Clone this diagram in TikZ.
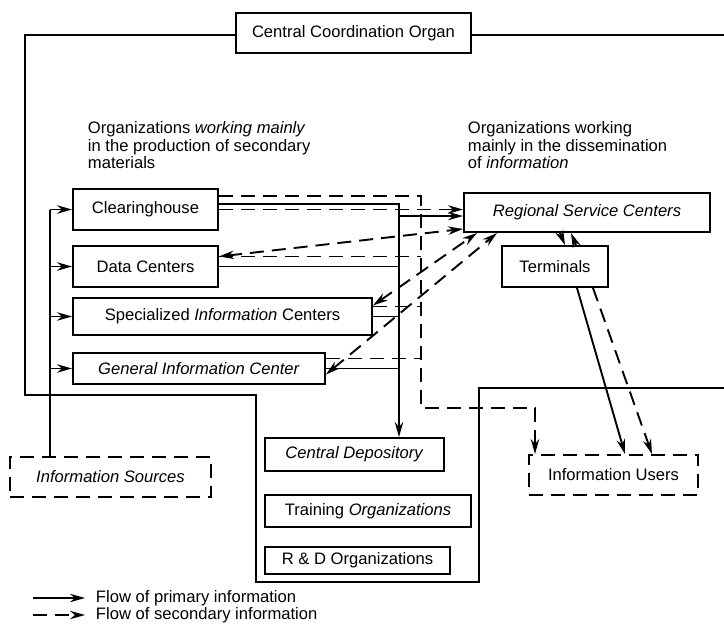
\documentclass[tikz,border=0pt]{standalone}
\usepackage{fontspec}
\setmainfont{Liberation Sans}
\usetikzlibrary{arrows.meta}

\begin{document}
\begin{tikzpicture}[x=0.5pt, y=-0.5pt, line width=0.95pt,
    >={Stealth[length=7.5pt, width=4.2pt]},
    font=\fontsize{8.3}{8.75}\selectfont,
    box/.style={draw, inner sep=0pt},
    sec/.style={dash pattern=on 7pt off 4pt},
    dbox/.style={box, sec}]
  \useasboundingbox (0,0) rectangle (724,627);

  \node (cco) at (353.5,33) [box, minimum width=117.5pt, minimum height=20pt] {Central Coordination Organ};
  \node (prodtxt) at (87,121) [anchor=north west, align=left, inner sep=0pt] {Organizations \textit{working mainly}\\in the production of secondary\\materials};
  \node (disstxt) at (467,121) [anchor=north west, align=left, inner sep=0pt] {Organizations working\\mainly in the dissemination\\of \textit{information}};

  \node (clear) at (145.5,209.5) [box, minimum width=72.5pt, minimum height=20.5pt] {Clearinghouse};
  \node (datac) at (145.5,266.5) [box, minimum width=72.5pt, minimum height=20.5pt] {Data Centers};
  \node (spec) at (222.5,316.5) [box, minimum width=149.5pt, minimum height=18.5pt] {Specialized \textit{Information} Centers};
  \node (general) at (199,368.5) [box, minimum width=126pt, minimum height=15.5pt] {\textit{General Information Center}};
  \node (rsc) at (587,212.5) [box, minimum width=123pt, minimum height=19.5pt] {\textit{Regional Service Centers}};
  \node (term) at (555,266.5) [box, minimum width=53pt, minimum height=20.5pt] {Terminals};
  \node (src) at (110.5,477) [dbox, minimum width=100.5pt, minimum height=20pt] {\textit{Information Sources}};
  \node (users) at (613.5,475) [dbox, minimum width=84.5pt, minimum height=20pt] {Information Users};
  \node (depot) at (354.5,454.5) [box, minimum width=89.5pt, minimum height=16.5pt] {\textit{Central Depository}};
  \node (train) at (368,511) [box, minimum width=103pt, minimum height=16pt] {Training \textit{Organizations}};
  \node (rnd) at (357.5,560.5) [box, minimum width=92.5pt, minimum height=13.5pt] {R \& D Organizations};

  % frame round the coordination organ
  \coordinate (fa) at (25,395);
  \coordinate (fb) at (256,582);
  \coordinate (fc) at (479,388);
  \coordinate (fd) at (724,388);
  \coordinate (fe) at (724,35);
  \draw (cco.west) ++(0,2) -| (fa) -| (fb) -| (fc) -- (fd);
  \draw (cco.east |- fe) -- (fe);

  % sources feed the producers
  \coordinate (inbus) at (50,0);
  \draw (src.north -| inbus) -- (clear.west -| inbus);
  \foreach \n in {clear,datac,spec,general}
    \draw[->] (\n.west -| inbus) -- (\n.west);

  % primary and secondary buses
  \coordinate (pbus) at (399,204);
  \coordinate (sbus) at (421,196);
  \coordinate (pin) at (399,216);
  \coordinate (ubend) at (535,408);
  \draw[->] (clear.east |- pbus) -- (pbus) -- (pbus |- depot.north);
  \draw[sec,->] (clear.east |- sbus) -- (sbus) |- (ubend) -- (ubend |- users.north);
  \draw[sec,->] (clear.east) -- (clear.east -| rsc.west);
  \draw[->] (pin) -- (pin -| rsc.west);
  \foreach \n in {datac,spec,general} {
    \draw (\n.east) -- (\n.east -| pbus);
    \draw[sec] ([yshift=5pt]\n.east) -- ([yshift=5pt]\n.east -| sbus);
  }
  \draw[sec,<->] ([yshift=5pt]datac.east) -- ([yshift=2pt]rsc.south west);
  \draw[sec,<->] ([yshift=5.5pt]spec.east) -- ([xshift=7pt]rsc.south west);
  \draw[sec,<->] ([yshift=-3pt]general.east) -- ([xshift=17pt]rsc.south west);

  % dissemination
  \draw[->] ([xshift=-13.5pt]rsc.south) -- ([xshift=5pt]term.north);
  \draw[sec,->] ([xshift=10.5pt]term.north) -- ([xshift=-8pt]rsc.south);
  \draw[->] ([xshift=11pt]term.south) -- ([xshift=5.75pt]users.north);
  \draw[sec,->] ([xshift=19pt]term.south) -- ([xshift=19.25pt]users.north);

  % legend
  \node (leg1) at (95,598) [anchor=west, inner sep=0pt] {Flow of primary information};
  \node (leg2) at (95,615) [anchor=west, inner sep=0pt] {Flow of secondary information};
  \coordinate (la) at (33,598);
  \coordinate (lb) at (33,615);
  \draw[->] (la) -- ([xshift=-5pt]leg1.west);
  \draw[sec,->] (lb) -- ([xshift=-5pt]leg2.west);
\end{tikzpicture}
\end{document}
